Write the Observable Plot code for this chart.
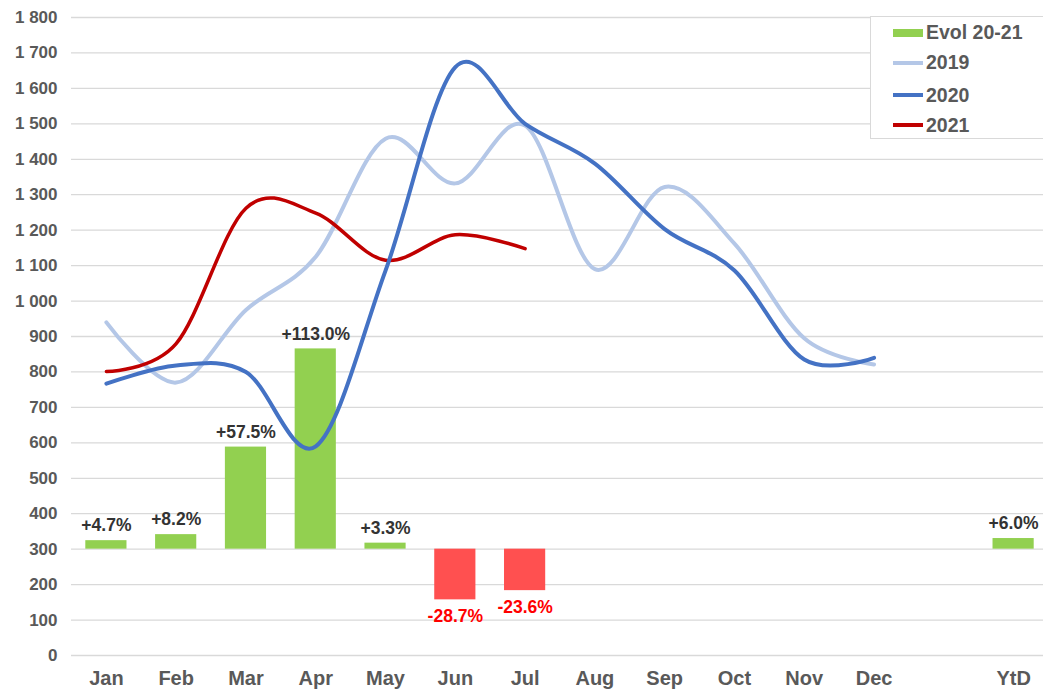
<!DOCTYPE html>
<html>
<head>
<meta charset="utf-8">
<script src="https://cdn.jsdelivr.net/npm/d3@7"></script>
<script src="https://cdn.jsdelivr.net/npm/@observablehq/plot@0.6"></script>
<style>
  html, body { margin: 0; padding: 0; background: #fff; }
  #wrap { position: relative; width: 1043px; height: 695px; font-family: "Liberation Sans", Arial, sans-serif; }
  #legend { position: absolute; left: 870px; top: 16px; width: 180px; height: 123px; border: 1px solid #d9d9d9; box-sizing: border-box; background: #fff; }
  .item { position: absolute; left: 22px; height: 24px; display: flex; align-items: center; font-size: 19.5px; font-weight: bold; color: #595959; }
  .sym { width: 30px; margin-right: 3px; }
</style>
</head>
<body>
<div id="wrap"></div>
<script>
// Categories (with an empty slot before YtD)
const months = ["Jan","Feb","Mar","Apr","May","Jun","Jul","Aug","Sep","Oct","Nov","Dec"," ","YtD"];
const lineMonths = ["Jan","Feb","Mar","Apr","May","Jun","Jul","Aug","Sep","Oct","Nov","Dec"];

// Series values
const s2019 = [940, 770, 975, 1125, 1458, 1332, 1495, 1090, 1322, 1162, 895, 821];
const s2020 = [767, 818, 800, 590, 1086, 1660, 1500, 1388, 1203, 1086, 835, 840];
const s2021 = [801, 880, 1262, 1248, 1115, 1187, 1148];

// Evolution 2020-21 bars
const evolCats = ["Jan","Feb","Mar","Apr","May","Jun","Jul","YtD"];
const evolPct = [4.7, 8.2, 57.5, 113.0, 3.3, -28.7, -23.6, 6.0];
const evolBarEnd = [324, 341, 588, 865, 317, 157, 183, 330];
const barBase = 300;

// Y ticks
const yTicks = d3.range(0, 1801, 100);

const evol = evolCats.map((c, i) => ({cat: c, pct: evolPct[i], end: evolBarEnd[i]}));
const pos = evol.filter(d => d.pct >= 0);
const neg = evol.filter(d => d.pct < 0);
const series = (vals, cats) => vals.map((v, i) => ({m: cats[i], v}));

const fmt = d => d >= 1000 ? Math.floor(d / 1000) + "\u00a0" + String(d % 1000).padStart(3, "0") : String(d);

const chart = Plot.plot({
  width: 1043,
  height: 695,
  marginLeft: 71,
  marginRight: 0,
  marginTop: 17,
  marginBottom: 40,
  style: {fontFamily: "'Liberation Sans', Arial, sans-serif", background: "#fff", overflow: "visible"},
  x: {type: "band", domain: months, range: [71, 1048], paddingInner: 0.41, paddingOuter: 0.205, align: 0.5, round: false},
  y: {domain: [0, 1800]},
  marks: [
    Plot.ruleY(yTicks, {stroke: "#d9d9d9", strokeWidth: 1.3}),
    Plot.barY(pos, {x: "cat", y1: barBase, y2: "end", fill: "#92d050"}),
    Plot.barY(neg, {x: "cat", y1: barBase, y2: "end", fill: "#ff5050"}),
    Plot.line(series(s2019, lineMonths), {x: "m", y: "v", stroke: "#b4c7e7", strokeWidth: 4, curve: "cardinal", tension: 0}),
    Plot.line(series(s2021, lineMonths), {x: "m", y: "v", stroke: "#c00000", strokeWidth: 3.5, curve: "cardinal", tension: 0}),
    Plot.line(series(s2020, lineMonths), {x: "m", y: "v", stroke: "#4472c4", strokeWidth: 4, curve: "cardinal", tension: 0}),
    Plot.text(pos, {x: "cat", y: "end", text: d => "+" + d.pct.toFixed(1) + "%", dy: -15, fill: "#333", fontSize: 17.5, fontWeight: "bold"}),
    Plot.text(neg, {x: "cat", y: "end", text: d => d.pct.toFixed(1) + "%", dy: 17, fill: "#ff0000", fontSize: 17.5, fontWeight: "bold"}),
    Plot.axisY({ticks: yTicks, tickSize: 0, tickPadding: 14, tickFormat: fmt, fontSize: 17, fontWeight: "bold", color: "#595959"}),
    Plot.axisX({tickSize: 0, tickPadding: 15.5, fontSize: 20, fontWeight: "bold", color: "#595959"})
  ]
});

const wrap = document.getElementById("wrap");
wrap.appendChild(chart);

// Legend
const legendItems = [
  {label: "Evol 20-21", color: "#92d050", type: "rect", top: 3.5},
  {label: "2019", color: "#b4c7e7", type: "line", top: 33.7},
  {label: "2020", color: "#4472c4", type: "line", top: 66.3},
  {label: "2021", color: "#c00000", type: "line", top: 96.3}
];
const leg = document.createElement("div");
leg.id = "legend";
legendItems.forEach(it => {
  const row = document.createElement("div");
  row.className = "item";
  row.style.top = it.top + "px";
  const sym = document.createElement("div");
  sym.className = "sym";
  sym.style.background = it.color;
  sym.style.height = it.type === "rect" ? "8px" : "4px";
  row.appendChild(sym);
  const t = document.createElement("span");
  t.textContent = it.label;
  row.appendChild(t);
  leg.appendChild(row);
});
wrap.appendChild(leg);
</script>
</body>
</html>
